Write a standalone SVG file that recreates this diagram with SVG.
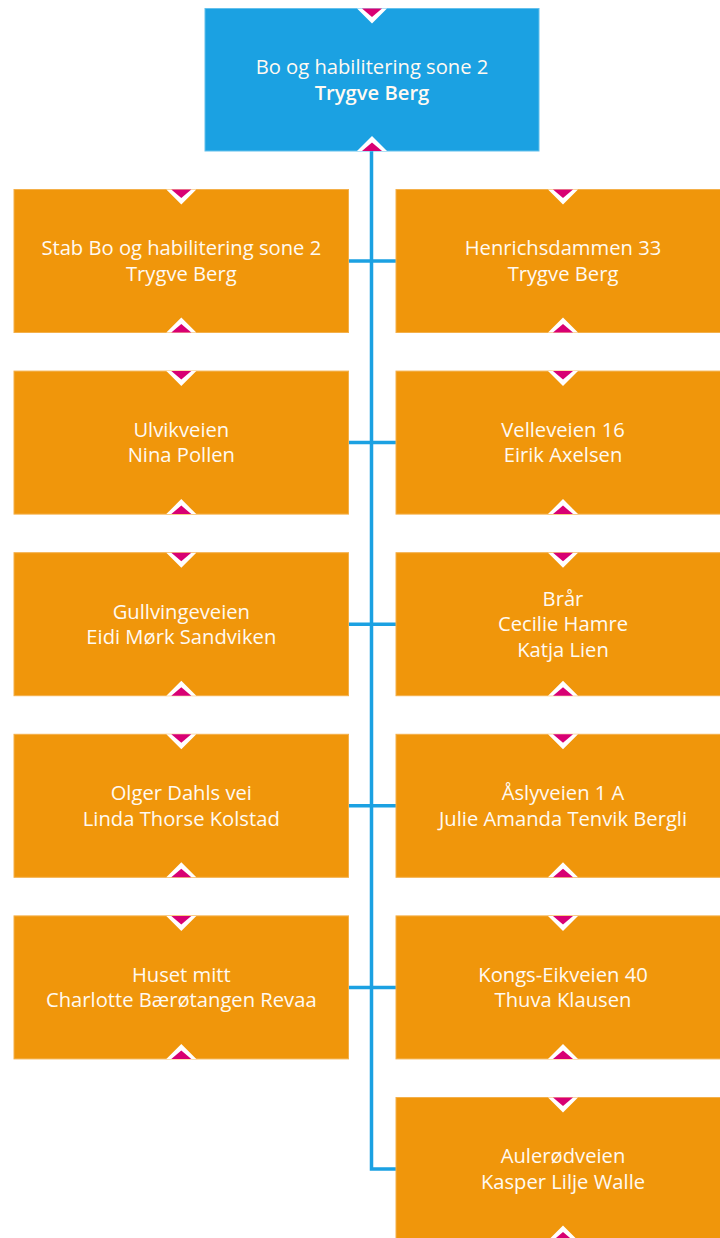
<svg xmlns="http://www.w3.org/2000/svg" width="720" height="1238" viewBox="0 0 720 1238">
<style>
.blue{fill:#1ba1e2;stroke:#63c0ec;stroke-width:1}
.orange{fill:#f0960b;stroke:#f4b04a;stroke-width:1}
.t{font-family:"Open Sans","Noto Sans","DejaVu Sans",sans-serif;font-size:20.2px;fill:#fffaf2;text-anchor:middle}
.b{font-weight:600}
.mw{fill:#ffffff}
.mm{fill:#d80073}
.conn{stroke:#1ba1e2;stroke-width:3.5;fill:none}
</style>
<defs>
<g id="mtop"><polygon class="mw" points="-15,0 15,0 0,15"/><polygon class="mm" points="-10,0 10,0 0,8.5"/></g>
<g id="mbot"><polygon class="mw" points="-15,0 15,0 0,-15"/><polygon class="mm" points="-10,0 10,0 0,-8.5"/></g>
</defs>
<g id="connectors">
<path class="conn" d="M371.5,151 V1169 H396"/>
<path class="conn" d="M349,261 H396"/>
<path class="conn" d="M349,442.6 H396"/>
<path class="conn" d="M349,624.2 H396"/>
<path class="conn" d="M349,805.8 H396"/>
<path class="conn" d="M349,987.4 H396"/>
</g>
<g id="n0">
<rect class="blue" x="205" y="8.5" width="334" height="142.5"/>
<use href="#mtop" x="372" y="8.5"/><use href="#mbot" x="372" y="151"/>
<text class="t" x="372" y="74">Bo og habilitering sone 2</text>
<text class="t b" x="372" y="99.5">Trygve Berg</text>
</g>
<g id="n1">
<rect class="orange" x="14" y="189.5" width="334.5" height="143"/>
<use href="#mtop" x="181.3" y="189.5"/><use href="#mbot" x="181.3" y="332.5"/>
<text class="t" x="181.3" y="255.3">Stab Bo og habilitering sone 2</text>
<text class="t" x="181.3" y="280.8">Trygve Berg</text>
</g>
<g id="n2">
<rect class="orange" x="396" y="189.5" width="334" height="143"/>
<use href="#mtop" x="563" y="189.5"/><use href="#mbot" x="563" y="332.5"/>
<text class="t" x="563" y="255.3">Henrichsdammen 33</text>
<text class="t" x="563" y="280.8">Trygve Berg</text>
</g>
<g id="n3">
<rect class="orange" x="14" y="371.1" width="334.5" height="143"/>
<use href="#mtop" x="181.3" y="371.1"/><use href="#mbot" x="181.3" y="514.1"/>
<text class="t" x="181.3" y="436.9">Ulvikveien</text>
<text class="t" x="181.3" y="462.4">Nina Pollen</text>
</g>
<g id="n4">
<rect class="orange" x="396" y="371.1" width="334" height="143"/>
<use href="#mtop" x="563" y="371.1"/><use href="#mbot" x="563" y="514.1"/>
<text class="t" x="563" y="436.9">Velleveien 16</text>
<text class="t" x="563" y="462.4">Eirik Axelsen</text>
</g>
<g id="n5">
<rect class="orange" x="14" y="552.7" width="334.5" height="143"/>
<use href="#mtop" x="181.3" y="552.7"/><use href="#mbot" x="181.3" y="695.7"/>
<text class="t" x="181.3" y="618.5">Gullvingeveien</text>
<text class="t" x="181.3" y="644">Eidi Mørk Sandviken</text>
</g>
<g id="n6">
<rect class="orange" x="396" y="552.7" width="334" height="143"/>
<use href="#mtop" x="563" y="552.7"/><use href="#mbot" x="563" y="695.7"/>
<text class="t" x="563" y="605.7">Brår</text>
<text class="t" x="563" y="631.2">Cecilie Hamre</text>
<text class="t" x="563" y="656.7">Katja Lien</text>
</g>
<g id="n7">
<rect class="orange" x="14" y="734.3" width="334.5" height="143"/>
<use href="#mtop" x="181.3" y="734.3"/><use href="#mbot" x="181.3" y="877.3"/>
<text class="t" x="181.3" y="800.1">Olger Dahls vei</text>
<text class="t" x="181.3" y="825.6">Linda Thorse Kolstad</text>
</g>
<g id="n8">
<rect class="orange" x="396" y="734.3" width="334" height="143"/>
<use href="#mtop" x="563" y="734.3"/><use href="#mbot" x="563" y="877.3"/>
<text class="t" x="563" y="800.1">Åslyveien 1 A</text>
<text class="t" x="563" y="825.6">Julie Amanda Tenvik Bergli</text>
</g>
<g id="n9">
<rect class="orange" x="14" y="915.9" width="334.5" height="143"/>
<use href="#mtop" x="181.3" y="915.9"/><use href="#mbot" x="181.3" y="1058.9"/>
<text class="t" x="181.3" y="981.7">Huset mitt</text>
<text class="t" x="181.3" y="1007.2">Charlotte Bærøtangen Revaa</text>
</g>
<g id="n10">
<rect class="orange" x="396" y="915.9" width="334" height="143"/>
<use href="#mtop" x="563" y="915.9"/><use href="#mbot" x="563" y="1058.9"/>
<text class="t" x="563" y="981.7">Kongs-Eikveien 40</text>
<text class="t" x="563" y="1007.2">Thuva Klausen</text>
</g>
<g id="n11">
<rect class="orange" x="396" y="1097.5" width="334" height="143"/>
<use href="#mtop" x="563" y="1097.5"/><use href="#mbot" x="563" y="1240.5"/>
<text class="t" x="563" y="1163.3">Aulerødveien</text>
<text class="t" x="563" y="1188.8">Kasper Lilje Walle</text>
</g>
</svg>
